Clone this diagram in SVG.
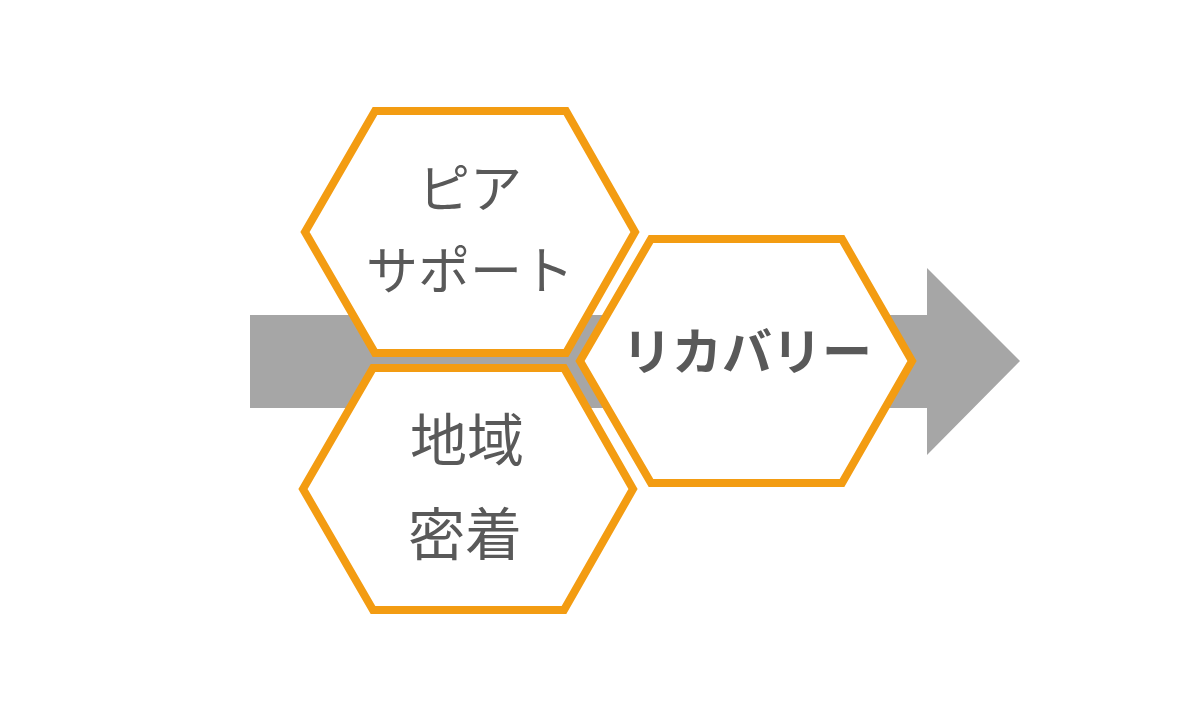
<svg xmlns="http://www.w3.org/2000/svg" width="1197" height="716" viewBox="0 0 1197 716">
<style>
.hex{fill:#FFFFFF;stroke:#F39C12;stroke-width:8;stroke-linejoin:miter}
.t{font-family:"Noto Sans CJK JP","Noto Sans",sans-serif;fill:#595959;text-anchor:middle}
</style>
<rect width="1197" height="716" fill="#FFFFFF"/>
<g id="connectors">
<polygon id="arrow" points="250,315 927,315 927,268 1020,361 927,455 927,408 250,408" fill="#A6A6A6"/>
</g>
<g id="node-peer">
<polygon class="hex" points="305,232 375,111 566,111 635,232 566,353 375,353"/>
<text class="t" font-size="52" x="470" y="208">ピア</text>
<text class="t" font-size="52" x="470" y="290">サポート</text>
</g>
<g id="node-local">
<polygon class="hex" points="303,489 373,368 564,368 633,489 564,610 373,610"/>
<text class="t" font-size="57" x="467" y="461">地域</text>
<text class="t" font-size="57" x="465" y="555">密着</text>
</g>
<g id="node-recovery">
<polygon class="hex" points="580,361 651,239 842,239 912,361 842,483 651,483"/>
<text class="t" font-size="50" font-weight="bold" x="747" y="370">リカバリー</text>
</g>
</svg>
